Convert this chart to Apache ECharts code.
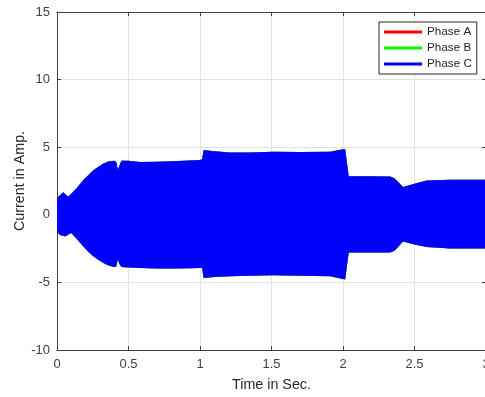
<!DOCTYPE html>
<html>
<head>
<meta charset="utf-8">
<script src="https://cdn.jsdelivr.net/npm/echarts@6/dist/echarts.min.js"></script>
<style>html,body{margin:0;padding:0;background:#fff;}#c{width:485px;height:397px;}</style>
</head>
<body>
<div id="c"></div>
<script>
// Envelope of the dense three-phase current traces
var times = [0, 0.005, 0.02, 0.044, 0.06, 0.079, 0.10, 0.14, 0.184, 0.22, 0.254, 0.29, 0.324, 0.36, 0.40, 0.415, 0.425, 0.435, 0.45, 0.5, 0.58, 0.7, 0.85, 1.0, 1.015, 1.025, 1.1, 1.21, 1.35, 1.51, 1.7, 1.91, 2.0, 2.015, 2.04, 2.2, 2.33, 2.36, 2.42, 2.5, 2.585, 2.75, 3.0];
var upper = [1.2, 1.3, 1.45, 1.67, 1.5, 1.35, 1.55, 2.0, 2.58, 2.95, 3.3, 3.55, 3.8, 3.95, 4.0, 3.9, 3.35, 3.6, 4.0, 4.0, 3.9, 3.92, 3.98, 4.05, 4.1, 4.8, 4.7, 4.6, 4.6, 4.67, 4.65, 4.67, 4.85, 4.85, 2.85, 2.85, 2.83, 2.7, 2.05, 2.3, 2.53, 2.6, 2.6];
var lower = [-1.2, -1.3, -1.5, -1.55, -1.6, -1.45, -1.35, -1.8, -2.34, -2.75, -3.07, -3.35, -3.56, -3.75, -3.86, -3.8, -3.3, -3.6, -3.86, -3.9, -3.93, -3.98, -3.97, -3.93, -3.93, -4.67, -4.6, -4.55, -4.5, -4.47, -4.5, -4.55, -4.75, -4.79, -2.78, -2.78, -2.78, -2.65, -1.97, -2.2, -2.38, -2.5, -2.5];
var phaseNames = ['Phase A', 'Phase B', 'Phase C'];
var phaseColors = ['#ff0000', '#00ff00', '#0000ff'];
var xTicks = {min: 0, max: 3, interval: 0.5};
var yTicks = {min: -10, max: 15, interval: 5};

var chart = echarts.init(document.getElementById('c'), null, {renderer: 'canvas'});
var axisColor = '#404040';
var font = 'Liberation Sans, Arial, Helvetica, sans-serif';

function envelopeSeries(name, color) {
  return {
    name: name,
    type: 'custom',
    xAxisIndex: 0, yAxisIndex: 0,
    data: [[0, 0]],
    itemStyle: {color: color},
    renderItem: function (params, api) {
      var pts = [];
      for (var i = 0; i < times.length; i++) pts.push(api.coord([times[i], upper[i]]));
      for (var j = times.length - 1; j >= 0; j--) pts.push(api.coord([times[j], lower[j]]));
      return {type: 'polygon', shape: {points: pts}, style: {fill: color, stroke: null}};
    }
  };
}

var commonX = {
  type: 'value', min: xTicks.min, max: xTicks.max, interval: xTicks.interval,
  axisLine: {show: true, onZero: false, lineStyle: {color: axisColor, width: 1}},
  axisTick: {show: true, inside: true, length: 4, lineStyle: {color: axisColor}}
};
var commonY = {
  type: 'value', min: yTicks.min, max: yTicks.max, interval: yTicks.interval,
  axisLine: {show: true, onZero: false, lineStyle: {color: axisColor, width: 1}},
  axisTick: {show: true, inside: true, length: 4, lineStyle: {color: axisColor}}
};

chart.setOption({
  backgroundColor: '#ffffff',
  animation: false,
  grid: {left: 57, top: 12, width: 429, height: 338, containLabel: false, outerBoundsMode: 'none'},
  legend: {
    orient: 'vertical', left: 379, top: 22,
    padding: [3, 5, 3, 5], itemGap: 2,
    itemWidth: 38, itemHeight: 3, itemTextGap: 4,
    borderColor: '#262626', borderWidth: 1, backgroundColor: '#ffffff',
    textStyle: {color: '#262626', fontSize: 11.7, fontFamily: font, lineHeight: 14},
    data: phaseNames.map(function (n, i) { return {name: n, icon: 'rect', itemStyle: {color: phaseColors[i]}}; })
  },
  xAxis: [
    Object.assign({}, commonX, {
      position: 'bottom',
      name: 'Time in Sec.', nameLocation: 'middle', nameGap: 28, nameMoveOverlap: false,
      nameTextStyle: {color: '#262626', fontSize: 14.3, fontFamily: font},
      axisLabel: {color: axisColor, fontSize: 13, fontFamily: font, margin: 8},
      splitLine: {show: true, lineStyle: {color: '#e3e3e3', width: 1}}
    }),
    Object.assign({}, commonX, {
      position: 'top', axisLabel: {show: false}, splitLine: {show: false}
    })
  ],
  yAxis: [
    Object.assign({}, commonY, {
      position: 'left',
      name: 'Current in Amp.', nameLocation: 'middle', nameGap: 30, nameMoveOverlap: false,
      nameTextStyle: {color: '#262626', fontSize: 14.3, fontFamily: font},
      axisLabel: {color: axisColor, fontSize: 13, fontFamily: font, margin: 7},
      splitLine: {show: true, lineStyle: {color: '#e3e3e3', width: 1}}
    }),
    Object.assign({}, commonY, {
      position: 'right', axisLabel: {show: false}, splitLine: {show: false}
    })
  ],
  series: phaseNames.map(function (n, i) { return envelopeSeries(n, phaseColors[i]); })
});
</script>
</body>
</html>
